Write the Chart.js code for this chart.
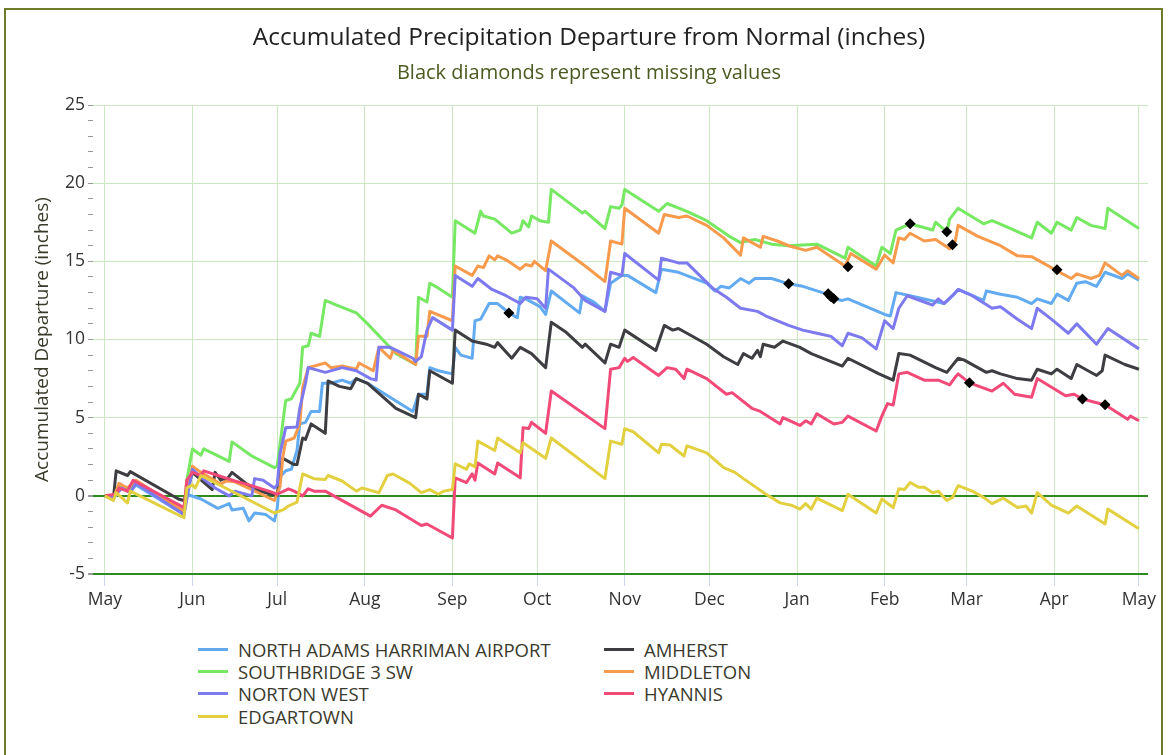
<!DOCTYPE html>
<html>
<head>
<meta charset="utf-8">
<script src="https://cdn.jsdelivr.net/npm/chart.js@4.4.1/dist/chart.umd.min.js"></script>
<style>
  html, body { margin: 0; padding: 0; background: #fff; }
  body { width: 1171px; height: 755px; overflow: hidden; position: relative; font-family: 'Open Sans', sans-serif; }
  #frame { position: absolute; left: 4px; top: 8px; width: 1159px; height: 800px; border: 2px solid #6e7d2c; box-sizing: border-box; }
  #wrap { position: absolute; left: 0; top: 0; width: 1171px; height: 625px; }
  #legend { position: absolute; left: 198px; top: 638px; display: grid; grid-template-columns: 406px 300px; }
  .item { display: flex; align-items: center; height: 22.4px; font-size: 18.5px; color: #3a3a2c; white-space: nowrap; }
  .swatch { width: 30px; height: 3px; margin-right: 10px; }
</style>
</head>
<body>
<div id="frame"></div>
<div id="wrap"><canvas id="precipChart"></canvas></div>
<div id="legend"></div>
<script>
// Month ticks (day index from May 1)
const monthStarts = [0, 31, 61, 92, 123, 153, 184, 214, 245, 276, 305, 336, 366];
const monthLabels = ['May', 'Jun', 'Jul', 'Aug', 'Sep', 'Oct', 'Nov', 'Dec', 'Jan', 'Feb', 'Mar', 'Apr', 'May'];

// [day, inches]
const northAdams = [[0,0],[3,-0.2],[6,0.6],[9,0.3],[11,0.7],[28,-1.2],[29,0.1],[34,-0.2],[40,-0.8],[44,-0.5],[45,-0.9],[49,-0.8],[51,-1.6],[53,-1.1],[57,-1.2],[60,-1.6],[61,-0.8],[62,1.2],[64,1.6],[66,1.7],[68,2.9],[69,4.6],[71,4.7],[73,5.4],[76,5.4],[77,7.2],[80,7.2],[84,7.4],[87,7.2],[89,7.5],[93,7.2],[109,5.4],[111,6.5],[114,6.5],[115,8.2],[118,8.0],[123,7.8],[124,9.5],[126,9.0],[130,8.8],[131,11.2],[133,11.3],[136,12.3],[139,12.3],[141,12.0],[143,11.7],[146,11.4],[147,12.7],[149,12.6],[154,12.1],[156,11.6],[158,13.1],[168,11.7],[169,12.8],[173,12.4],[177,11.8],[179,13.6],[183,14.1],[185,14.1],[195,13.0],[197,14.5],[203,14.3],[213,13.6],[216,13.1],[218,13.4],[221,13.3],[225,13.9],[228,13.6],[230,13.9],[236,13.9],[242,13.56],[247,13.4],[254,13.0],[256,12.92],[257,12.73],[258,12.6],[261,12.5],[263,12.6],[276,11.6],[278,11.5],[280,13.0],[285,12.8],[297,12.3],[300,12.8],[302,13.2],[311,12.5],[312,13.1],[317,12.9],[323,12.7],[328,12.3],[330,12.6],[335,12.3],[337,12.9],[341,12.5],[344,13.6],[347,13.7],[351,13.4],[354,14.3],[360,13.9],[362,14.2],[366,13.8]];
const amherst = [[0,0],[3,-0.2],[4,1.6],[8,1.3],[9,1.55],[26,-0.2],[28,-0.3],[31,1.5],[38,0.4],[39,1.5],[41,1.0],[42,1.1],[43,1.0],[45,1.5],[52,0.5],[57,0.2],[61,0.0],[62,1.9],[63,2.4],[67,2.0],[68,2.0],[70,3.7],[71,3.6],[73,4.6],[78,4.0],[79,7.35],[83,7.0],[87,6.85],[89,7.5],[93,7.2],[103,5.6],[110,5.0],[111,6.5],[114,6.2],[115,8.0],[123,7.2],[124,10.6],[130,9.9],[135,9.7],[138,9.5],[139,9.8],[144,8.8],[147,9.5],[151,9.1],[156,8.2],[158,11.1],[163,10.5],[169,9.5],[170,9.7],[177,8.5],[179,9.7],[182,9.5],[184,10.6],[195,9.3],[198,10.9],[201,10.6],[203,10.7],[213,9.7],[219,8.9],[224,8.4],[226,9.1],[229,8.8],[231,9.3],[232,8.9],[233,9.7],[237,9.5],[240,9.9],[246,9.5],[250,9.1],[261,8.3],[263,8.8],[274,7.8],[279,7.4],[281,9.1],[285,9.0],[294,8.2],[298,7.9],[302,8.8],[304,8.7],[312,7.9],[314,8.0],[317,7.8],[323,7.5],[328,7.4],[330,8.1],[335,7.8],[337,8.1],[342,7.5],[344,8.4],[351,7.7],[353,8.0],[354,9.0],[361,8.4],[366,8.1]];
const southbridge = [[0,0],[3,-0.2],[5,0.7],[9,0.3],[11,0.9],[28,-1.0],[29,1.0],[31,3.0],[34,2.6],[35,3.0],[44,2.2],[45,3.45],[52,2.55],[60,1.8],[61,1.9],[64,6.1],[66,6.2],[69,7.2],[70,9.5],[72,9.6],[73,10.4],[76,10.2],[78,12.5],[82,12.2],[89,11.7],[93,11.0],[103,9.1],[110,8.4],[111,12.7],[114,12.4],[115,13.6],[117,13.4],[123,12.7],[124,17.6],[131,16.8],[133,18.2],[134,17.9],[138,17.7],[144,16.8],[147,17.0],[148,17.6],[150,17.2],[151,17.9],[154,17.6],[157,17.5],[158,19.6],[169,18.1],[170,18.2],[177,17.1],[179,18.5],[182,18.4],[183,18.6],[184,19.6],[196,18.2],[199,18.7],[206,18.2],[213,17.6],[221,16.6],[225,16.2],[230,16.4],[236,16.1],[242,16.0],[252,16.1],[262,15.2],[263,15.9],[273,14.7],[275,15.9],[278,15.5],[280,17.0],[285,17.4],[293,17.0],[294,17.5],[298,16.9],[299,17.7],[302,18.4],[311,17.4],[314,17.6],[318,17.3],[328,16.5],[330,17.5],[335,16.8],[337,17.5],[342,17.0],[344,17.8],[349,17.3],[354,17.1],[355,18.4],[360,17.8],[366,17.1]];
const middleton = [[0,0],[3,-0.2],[5,0.8],[8,0.5],[11,1.0],[28,-1.0],[31,1.9],[34,1.5],[41,0.75],[43,0.95],[46,0.9],[52,0.4],[60,-0.3],[62,0.6],[63,2.5],[64,3.5],[67,3.7],[69,4.6],[70,6.9],[72,8.2],[78,8.5],[80,8.2],[84,8.3],[89,8.1],[90,8.5],[95,8.0],[97,9.5],[101,8.8],[102,9.3],[110,8.4],[111,10.2],[114,10.2],[115,11.8],[123,11.2],[124,14.7],[130,14.1],[132,14.7],[134,14.6],[136,15.35],[138,15.1],[139,15.35],[142,15.1],[147,14.5],[149,14.8],[151,14.7],[152,15.0],[156,14.4],[158,16.3],[170,14.7],[177,13.7],[179,16.3],[183,16.1],[184,18.4],[196,16.8],[198,18.0],[203,17.8],[206,17.9],[213,17.3],[219,16.5],[225,15.4],[226,16.5],[232,15.9],[233,16.6],[238,16.3],[242,16.0],[248,15.7],[252,15.9],[262,14.7],[264,15.5],[273,14.5],[276,15.4],[279,14.9],[281,16.5],[283,16.4],[285,16.8],[290,16.3],[294,16.4],[299,15.8],[300,16.0],[301,16.3],[302,17.3],[309,16.6],[317,16.0],[323,15.35],[328,15.3],[332,14.9],[337,14.4],[342,13.9],[344,14.2],[349,13.9],[352,14.1],[354,14.9],[360,14.1],[362,14.4],[366,13.9]];
const nortonWest = [[0,0],[3,-0.1],[6,0.5],[9,0.2],[11,0.8],[28,-1.2],[31,1.7],[34,1.2],[39,0.5],[44,0.0],[46,0.3],[52,0.0],[53,1.1],[56,1.0],[60,0.5],[61,0.7],[62,2.7],[64,4.35],[68,4.4],[69,5.6],[71,7.2],[72,8.2],[78,7.9],[84,8.2],[89,8.0],[94,7.5],[96,7.4],[97,9.5],[101,9.5],[109,8.8],[110,8.6],[112,8.9],[114,10.6],[116,11.4],[123,10.6],[124,14.1],[130,13.4],[132,13.9],[137,13.2],[142,12.8],[147,12.3],[149,12.7],[153,12.6],[156,12.0],[157,14.5],[166,13.3],[170,12.5],[177,11.8],[179,14.3],[183,14.1],[184,15.5],[196,13.8],[197,15.2],[203,14.9],[206,14.9],[215,13.3],[220,12.7],[225,12.0],[231,11.8],[234,11.5],[242,10.9],[247,10.6],[252,10.4],[257,10.2],[261,9.6],[263,10.4],[268,10.1],[273,9.4],[276,11.2],[279,10.7],[281,12.0],[284,12.8],[290,12.4],[293,12.2],[295,12.6],[297,12.3],[300,12.8],[302,13.2],[307,12.8],[314,12.0],[317,12.1],[323,11.3],[328,10.7],[330,12.0],[335,11.3],[341,10.4],[344,11.0],[351,9.7],[355,10.7],[366,9.4]];
const hyannis = [[0,0],[4,0.1],[5,0.5],[8,0.3],[10,1.0],[28,-0.75],[29,1.0],[31,1.5],[34,1.3],[35,1.6],[46,0.95],[51,0.7],[58,0.3],[61,0.1],[65,0.45],[67,0.3],[70,0.0],[72,0.45],[74,0.3],[78,0.3],[94,-1.3],[98,-0.6],[103,-0.9],[112,-1.9],[114,-1.8],[123,-2.7],[124,1.15],[128,0.85],[130,1.4],[131,1.0],[132,2.1],[138,1.4],[139,2.1],[147,1.15],[148,4.35],[150,4.3],[151,4.7],[156,4.0],[158,6.7],[177,4.3],[179,8.1],[182,8.2],[184,8.8],[185,8.6],[187,8.85],[196,7.7],[199,8.2],[202,8.1],[205,7.5],[206,8.1],[213,7.5],[220,6.5],[222,6.6],[229,5.6],[232,5.4],[239,4.6],[240,5.0],[246,4.5],[248,4.8],[250,4.6],[252,5.25],[258,4.6],[261,4.7],[263,5.1],[273,4.15],[275,5.1],[277,5.9],[279,5.8],[281,7.8],[284,7.9],[290,7.4],[295,7.4],[299,7.1],[301,7.6],[302,7.8],[306,7.23],[314,6.7],[318,7.2],[322,6.5],[328,6.3],[330,7.5],[340,6.4],[343,6.5],[346,6.2],[350,6.0],[354,5.82],[362,4.9],[363,5.1],[366,4.8]];
const edgartown = [[0,0],[3,-0.3],[4,0.2],[8,-0.45],[9,0.3],[28,-1.4],[29,0.5],[31,0.7],[32,0.5],[34,1.3],[60,-1.1],[63,-0.9],[65,-0.65],[68,-0.4],[70,1.4],[74,1.1],[78,1.05],[79,1.3],[84,0.95],[89,0.3],[91,0.5],[95,0.3],[97,0.2],[100,1.3],[102,1.4],[108,0.8],[112,0.2],[115,0.4],[118,0.1],[120,0.3],[123,0.4],[124,2.05],[128,1.7],[129,2.05],[131,1.85],[132,3.5],[138,2.9],[139,3.7],[147,2.75],[148,3.4],[156,2.4],[158,3.7],[177,1.1],[179,3.5],[183,3.3],[184,4.3],[187,4.1],[196,2.75],[197,3.3],[200,3.25],[205,2.55],[206,3.2],[213,2.75],[219,1.8],[223,1.5],[226,1.1],[234,0.1],[239,-0.45],[243,-0.6],[246,-0.85],[248,-0.5],[250,-0.85],[252,-0.15],[261,-0.95],[263,0.1],[273,-1.1],[275,-0.2],[279,-0.75],[281,0.45],[283,0.4],[285,0.85],[288,0.55],[290,0.55],[293,0.2],[295,0.3],[298,-0.3],[300,-0.1],[302,0.65],[307,0.3],[311,-0.1],[314,-0.5],[318,-0.15],[323,-0.75],[326,-0.65],[328,-1.1],[330,0.2],[335,-0.6],[341,-1.1],[344,-0.65],[354,-1.8],[355,-0.85],[366,-2.1]];
const missingValues = [[143,11.7],[242,13.56],[256,12.92],[257,12.73],[258,12.6],[263,14.65],[285,17.4],[298,16.9],[300,16.06],[306,7.23],[337,14.46],[346,6.2],[354,5.82]];

const stations = [
    { label: 'NORTH ADAMS HARRIMAN AIRPORT', data: northAdams, color: '#63abf1' },
    { label: 'AMHERST', data: amherst, color: '#3d3d42' },
    { label: 'SOUTHBRIDGE 3 SW', data: southbridge, color: '#76e862' },
    { label: 'MIDDLETON', data: middleton, color: '#f89a4c' },
    { label: 'NORTON WEST', data: nortonWest, color: '#7d79ee' },
    { label: 'HYANNIS', data: hyannis, color: '#f24a78' },
    { label: 'EDGARTOWN', data: edgartown, color: '#e2d040' }
];

const FONT = 'Open Sans';

const datasets = stations.map((s, i) => ({
    label: s.label,
    data: s.data,
    borderColor: s.color,
    backgroundColor: s.color,
    borderWidth: 3,
    pointRadius: 0,
    tension: 0,
    borderJoinStyle: 'round',
    order: stations.length - i
}));

datasets.push({
    label: 'Missing',
    data: missingValues,
    showLine: false,
    pointStyle: 'rectRot',
    pointRadius: 5.5,
    backgroundColor: '#000',
    borderColor: '#000',
    borderWidth: 0,
    order: -1
});

const ctx = document.getElementById('precipChart').getContext('2d');
const precipChart = new Chart(ctx, {
    type: 'line',
    data: { datasets: datasets },
    options: {
        responsive: true,
        maintainAspectRatio: false,
        animation: false,
        layout: { padding: { left: 30, right: 23, top: 0, bottom: 11 } },
        plugins: {
            legend: { display: false },
            tooltip: { enabled: false },
            title: {
                display: true,
                text: 'Accumulated Precipitation Departure from Normal (inches)',
                color: '#222',
                font: { family: FONT, size: 24.5, weight: 'normal' },
                padding: { top: 23.3, bottom: 8.3 }
            },
            subtitle: {
                display: true,
                text: 'Black diamonds represent missing values',
                color: '#4b5a20',
                font: { family: FONT, size: 20 },
                padding: { top: 0, bottom: 20 }
            }
        },
        scales: {
            x: {
                type: 'linear',
                min: -4.2,
                max: 369.2,
                afterBuildTicks: scale => { scale.ticks = monthStarts.map(v => ({ value: v })); },
                afterFit: scale => { scale.height = 40; },
                ticks: {
                    autoSkip: false,
                    maxRotation: 0,
                    padding: 4,
                    color: '#333',
                    font: { family: FONT, size: 17.5 },
                    callback: v => monthLabels[monthStarts.indexOf(v)]
                },
                grid: { color: '#cbe8c3', lineWidth: 1, tickColor: '#ccd6eb', tickLength: 12 },
                border: { display: false }
            },
            y: {
                min: -5,
                max: 25,
                afterFit: scale => { scale.width = 63; },
                ticks: {
                    stepSize: 1,
                    autoSkip: false,
                    padding: 3,
                    color: '#333',
                    font: { family: FONT, size: 17.5 },
                    callback: v => (v % 5 === 0 ? String(v) : '')
                },
                grid: {
                    color: c => {
                        const v = c.tick.value;
                        if (v === 0 || v === -5) return '#2f8a22';
                        return v % 5 === 0 ? '#cbe8c3' : 'rgba(0,0,0,0)';
                    },
                    lineWidth: c => (c.tick.value === 0 || c.tick.value === -5 ? 2 : 1),
                    tickColor: '#999',
                    tickLength: 5
                },
                border: { display: false },
                title: {
                    display: true,
                    text: 'Accumulated Departure (inches)',
                    color: '#3a3a2c',
                    font: { family: FONT, size: 19 },
                    padding: { top: 1.6, bottom: 0 }
                }
            }
        }
    }
});

// HTML legend, two columns like the original
const legendBox = document.getElementById('legend');
stations.forEach(s => {
    const item = document.createElement('div');
    item.className = 'item';
    const sw = document.createElement('span');
    sw.className = 'swatch';
    sw.style.background = s.color;
    item.appendChild(sw);
    item.appendChild(document.createTextNode(s.label));
    legendBox.appendChild(item);
});
</script>
</body>
</html>
